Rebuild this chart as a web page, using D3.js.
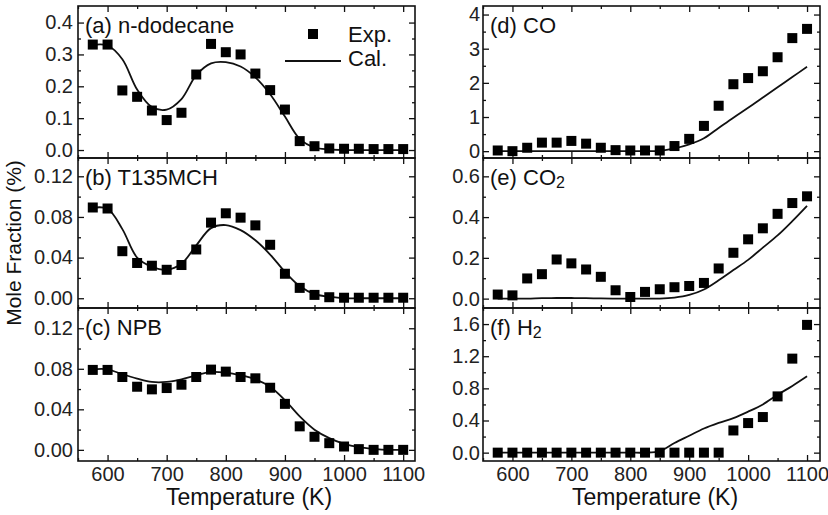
<!DOCTYPE html>
<html>
<head>
<meta charset="utf-8">
<script src="https://cdn.jsdelivr.net/npm/d3@7"></script>
<style>
  body { margin: 0; background: #fff; }
  svg { font-family: "Liberation Sans", Arial, sans-serif; }
  .tick text { fill: #222; }
</style>
</head>
<body>
<svg id="chart" width="828" height="515"></svg>
<script>
// temperatures (K)
var temps = [575, 600, 625, 650, 675, 700, 725, 750, 775, 800, 825, 850, 875, 900, 925, 950, 975, 1000, 1025, 1050, 1075, 1100]

// (a) n-dodecane
var expA = [0.331, 0.331, 0.187, 0.167, 0.124, 0.094, 0.117, 0.237, 0.333, 0.307, 0.300, 0.240, 0.188, 0.127, 0.028, 0.012, 0.005, 0.004, 0.004, 0.003, 0.003, 0.003]
var calA = [0.330, 0.328, 0.285, 0.190, 0.135, 0.127, 0.160, 0.235, 0.272, 0.276, 0.262, 0.228, 0.175, 0.105, 0.035, 0.008, 0.002, 0, 0, 0, 0, 0]
// (b) T135MCH
var expB = [0.0893, 0.0883, 0.0463, 0.0347, 0.032, 0.028, 0.0327, 0.048, 0.0744, 0.0836, 0.0793, 0.0717, 0.0526, 0.0241, 0.0102, 0.0033, 0.001, 0.0005, 0.0005, 0.0005, 0.0005, 0.0005]
var calB = [0.089, 0.088, 0.068, 0.040, 0.031, 0.028, 0.034, 0.052, 0.069, 0.072, 0.067, 0.057, 0.043, 0.026, 0.012, 0.004, 0.0015, 0, 0, 0, 0, 0]
// (c) NPB
var expC = [0.0789, 0.0789, 0.0719, 0.0623, 0.0597, 0.061, 0.0643, 0.0719, 0.0792, 0.0772, 0.0719, 0.0706, 0.0613, 0.0454, 0.0232, 0.0129, 0.0066, 0.0033, 0.0007, 0, 0, 0]
var calC = [0.0795, 0.0795, 0.0746, 0.0703, 0.067, 0.067, 0.0696, 0.0736, 0.0769, 0.0762, 0.0736, 0.0696, 0.0623, 0.049, 0.033, 0.0199, 0.0116, 0.006, 0.0027, 0.001, 0, 0]
// (d) CO
var expD = [0.02, 0, 0.1, 0.25, 0.25, 0.3, 0.22, 0.1, 0.03, 0.02, 0.02, 0.02, 0.15, 0.36, 0.74, 1.33, 1.96, 2.14, 2.34, 2.75, 3.31, 3.58]
var calD = [0, 0, 0, 0, 0, 0, 0, 0, 0, 0, 0, 0.01, 0.08, 0.2, 0.38, 0.68, 0.98, 1.27, 1.57, 1.87, 2.17, 2.47]
// (e) CO2
var expE = [0.02, 0.016, 0.099, 0.12, 0.192, 0.173, 0.143, 0.107, 0.041, 0.008, 0.033, 0.046, 0.056, 0.062, 0.077, 0.148, 0.225, 0.291, 0.345, 0.416, 0.469, 0.502]
var calE = [0, 0, 0, 0.002, 0.003, 0.003, 0.002, 0.001, 0, 0, 0, 0, 0.005, 0.018, 0.045, 0.09, 0.14, 0.19, 0.25, 0.31, 0.38, 0.455]
// (f) H2
var expF = [0, 0, 0, 0, 0, 0, 0, 0, 0, 0, 0, 0, 0, 0, 0, 0, 0.276, 0.368, 0.443, 0.70, 1.17, 1.59]
var calF = [0, 0, 0, 0, 0, 0, 0, 0, 0, 0, 0, 0.02, 0.12, 0.21, 0.30, 0.37, 0.43, 0.51, 0.60, 0.72, 0.83, 0.95]

var xTicks = [600, 700, 800, 900, 1000, 1100]
var xMinor = [550, 650, 750, 850, 950, 1050]

var panels = [
	{label: '(a) n-dodecane', exp: expA, cal: calA, col: 0, row: 0, dom: [-0.025, 0.452], ticks: [0, 0.1, 0.2, 0.3, 0.4], minor: [0.05, 0.15, 0.25, 0.35], fmt: '.1f'},
	{label: '(b) T135MCH', exp: expB, cal: calB, col: 0, row: 1, dom: [-0.0096, 0.138], ticks: [0, 0.04, 0.08, 0.12], minor: [0.02, 0.06, 0.1], fmt: '.2f'},
	{label: '(c) NPB', exp: expC, cal: calC, col: 0, row: 2, dom: [-0.011, 0.140], ticks: [0, 0.04, 0.08, 0.12], minor: [0.02, 0.06, 0.1], fmt: '.2f'},
	{label: '(d) CO', exp: expD, cal: calD, col: 1, row: 0, dom: [-0.2, 4.25], ticks: [0, 1, 2, 3, 4], minor: [0.5, 1.5, 2.5, 3.5], fmt: 'd'},
	{label: '(e) CO', sub: '2', exp: expE, cal: calE, col: 1, row: 1, dom: [-0.046, 0.69], ticks: [0, 0.2, 0.4, 0.6], minor: [0.1, 0.3, 0.5], fmt: '.1f'},
	{label: '(f) H', sub: '2', exp: expF, cal: calF, col: 1, row: 2, dom: [-0.104, 1.8], ticks: [0, 0.4, 0.8, 1.2, 1.6], minor: [0.2, 0.6, 1.0, 1.4], fmt: '.1f'}
]

var cols = [{x0: 78, x1: 415, dom: [550, 1120], pad: 5}, {x0: 483, x1: 820, dom: [550, 1122], pad: 3}]
var rows = [[6, 158], [158, 308], [308, 461]]

var svg = d3.select('#chart')

panels.forEach(function(p) {
	var c = cols[p.col]
	var r = rows[p.row]
	var x = d3.scaleLinear().domain(c.dom).range([c.x0, c.x1])
	var y = d3.scaleLinear().domain(p.dom).range([r[1], r[0]])
	var g = svg.append('g')

	function noDomain(sel) { sel.select('.domain').remove(); sel.selectAll('line').attr('stroke', '#111').attr('stroke-width', 1.3) }

	// y axes, left with labels, right ticks only
	g.append('g').attr('transform', 'translate(' + c.x0 + ',0)')
		.call(d3.axisLeft(y).tickValues(p.ticks).tickSize(-6).tickPadding(c.pad).tickFormat(d3.format(p.fmt)))
		.call(noDomain).selectAll('text').style('font-size', '20px')
	g.append('g').attr('transform', 'translate(' + c.x0 + ',0)')
		.call(d3.axisLeft(y).tickValues(p.minor).tickSize(-3).tickFormat('')).call(noDomain)
	g.append('g').attr('transform', 'translate(' + c.x1 + ',0)')
		.call(d3.axisRight(y).tickValues(p.ticks).tickSize(-6).tickFormat('')).call(noDomain)
	g.append('g').attr('transform', 'translate(' + c.x1 + ',0)')
		.call(d3.axisRight(y).tickValues(p.minor).tickSize(-3).tickFormat('')).call(noDomain)

	// x axes top and bottom
	var bottom = d3.axisBottom(x).tickValues(xTicks).tickSize(-6).tickPadding(6).tickFormat(d3.format('d'))
	if (p.row < 2) bottom.tickFormat('')
	g.append('g').attr('transform', 'translate(0,' + r[1] + ')').call(bottom)
		.call(noDomain).selectAll('text').style('font-size', '20px')
	g.append('g').attr('transform', 'translate(0,' + r[1] + ')')
		.call(d3.axisBottom(x).tickValues(xMinor).tickSize(-3).tickFormat('')).call(noDomain)
	g.append('g').attr('transform', 'translate(0,' + r[0] + ')')
		.call(d3.axisTop(x).tickValues(xTicks).tickSize(-6).tickFormat('')).call(noDomain)
	g.append('g').attr('transform', 'translate(0,' + r[0] + ')')
		.call(d3.axisTop(x).tickValues(xMinor).tickSize(-3).tickFormat('')).call(noDomain)

	// frame
	g.append('rect').attr('x', c.x0).attr('y', r[0]).attr('width', c.x1 - c.x0).attr('height', r[1] - r[0])
		.attr('fill', 'none').attr('stroke', '#111').attr('stroke-width', 1.6)

	// calculated line
	var line = d3.line().x(function(d, i) { return x(temps[i]) }).y(function(d) { return y(d) }).curve(d3.curveCatmullRom.alpha(0.5))
	g.append('path').datum(p.cal).attr('d', line).attr('fill', 'none').attr('stroke', '#111').attr('stroke-width', 1.8)

	// experimental squares
	var s = 10
	g.selectAll('rect.exp').data(p.exp).enter().append('rect').attr('class', 'exp')
		.attr('x', function(d, i) { return x(temps[i]) - s / 2 })
		.attr('y', function(d) { return y(d) - s / 2 })
		.attr('width', s).attr('height', s).attr('fill', '#000')

	// panel label
	var t = g.append('text').attr('x', c.x0 + 7).attr('y', r[0] + 27).style('font-size', '22px').attr('fill', '#111').text(p.label)
	if (p.sub) t.append('tspan').attr('dy', 3).style('font-size', '16px').text(p.sub)
})

// legend in panel (a)
svg.append('rect').attr('x', 308).attr('y', 29).attr('width', 10).attr('height', 10).attr('fill', '#000')
svg.append('text').attr('x', 348).attr('y', 42).style('font-size', '22px').attr('fill', '#111').text('Exp.')
svg.append('line').attr('x1', 285).attr('x2', 341).attr('y1', 61).attr('y2', 61).attr('stroke', '#111').attr('stroke-width', 1.8)
svg.append('text').attr('x', 348).attr('y', 66).style('font-size', '22px').attr('fill', '#111').text('Cal.')

// axis titles
svg.append('text').attr('x', 249).attr('y', 505).attr('text-anchor', 'middle').style('font-size', '23px').attr('fill', '#111').text('Temperature (K)')
svg.append('text').attr('x', 655).attr('y', 505).attr('text-anchor', 'middle').style('font-size', '23px').attr('fill', '#111').text('Temperature (K)')
svg.append('text').attr('transform', 'translate(21,243) rotate(-90)').attr('text-anchor', 'middle').style('font-size', '21px').attr('fill', '#111').text('Mole Fraction (%)')
</script>
</body>
</html>
